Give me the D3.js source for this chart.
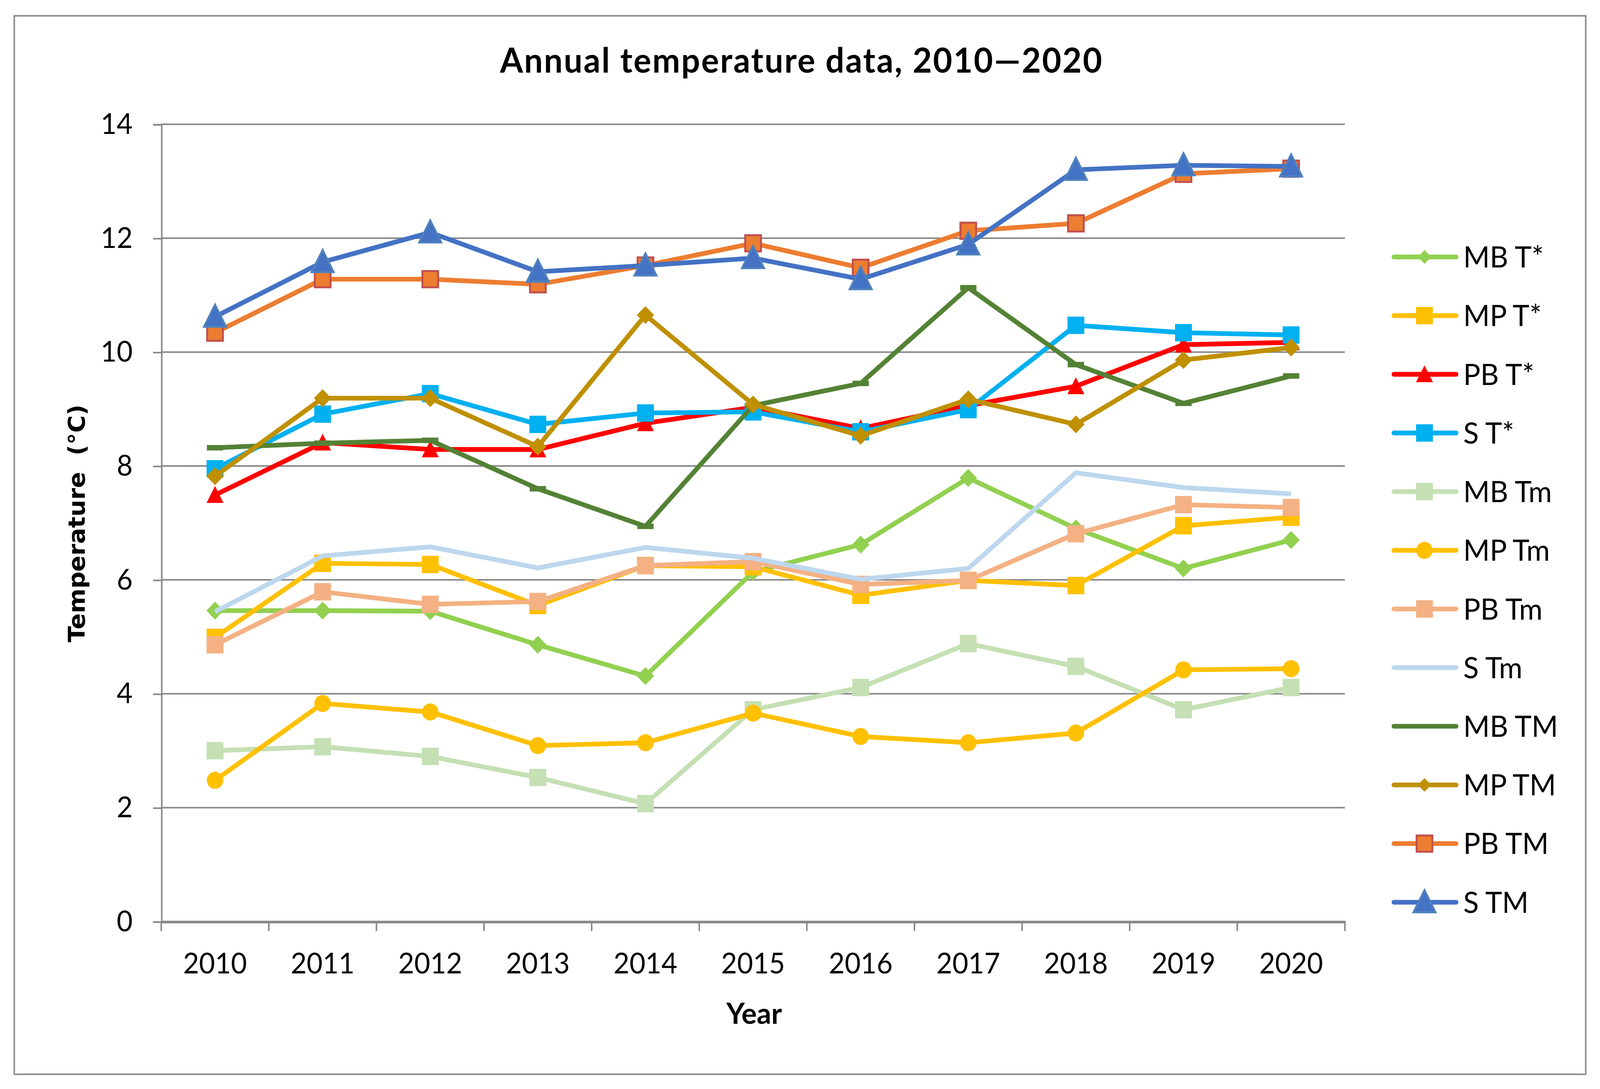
<!DOCTYPE html>
<html>
<head>
<meta charset="utf-8">
<script src="https://cdn.jsdelivr.net/npm/d3@7"></script>
<style>
  html, body { margin: 0; padding: 0; background: #fff; overflow: hidden; }
  svg { display: block; width: 100vw; height: 100vh; }
</style>
</head>
<body>
<div id="chart"></div>
<script>
// data
const years = ["2010", "2011", "2012", "2013", "2014", "2015", "2016", "2017", "2018", "2019", "2020"];
const yTicks = [0, 2, 4, 6, 8, 10, 12, 14];

const mbTstar = [5.46, 5.46, 5.45, 4.86, 4.31, 6.14, 6.62, 7.79, 6.90, 6.20, 6.70];
const mpTstar = [4.99, 6.29, 6.27, 5.55, 6.25, 6.23, 5.73, 5.99, 5.90, 6.95, 7.10];
const pbTstar = [7.49, 8.41, 8.29, 8.29, 8.75, 9.03, 8.66, 9.06, 9.40, 10.13, 10.17];
const sTstar  = [7.95, 8.91, 9.27, 8.73, 8.93, 8.95, 8.60, 8.99, 10.47, 10.34, 10.30];
const mbTm = [3.00, 3.07, 2.90, 2.53, 2.07, 3.72, 4.11, 4.88, 4.48, 3.72, 4.11];
const mpTm = [2.48, 3.83, 3.68, 3.09, 3.14, 3.66, 3.25, 3.14, 3.31, 4.42, 4.44];
const pbTm = [4.86, 5.79, 5.57, 5.62, 6.25, 6.32, 5.92, 5.99, 6.81, 7.32, 7.27];
const sTm  = [5.44, 6.42, 6.58, 6.21, 6.57, 6.38, 6.01, 6.20, 7.88, 7.62, 7.51];
const mbTM = [8.32, 8.40, 8.45, 7.60, 6.94, 9.06, 9.45, 11.13, 9.78, 9.10, 9.58];
const mpTM = [7.82, 9.19, 9.19, 8.34, 10.65, 9.08, 8.53, 9.17, 8.73, 9.86, 10.08];
const pbTM = [10.34, 11.28, 11.28, 11.19, 11.52, 11.91, 11.48, 12.13, 12.26, 13.13, 13.22];
const sTM  = [10.62, 11.58, 12.10, 11.41, 11.52, 11.65, 11.28, 11.89, 13.20, 13.28, 13.26];

const seriesNames = ["MB T*", "MP T*", "PB T*", "S T*", "MB Tm", "MP Tm", "PB Tm", "S Tm", "MB TM", "MP TM", "PB TM", "S TM"];
const seriesValues = [mbTstar, mpTstar, pbTstar, sTstar, mbTm, mpTm, pbTm, sTm, mbTM, mpTM, pbTM, sTM];

// look of each series (not data)
const styles = [
  { color: "#92d050", marker: "diamond" },
  { color: "#ffc000", marker: "square" },
  { color: "#ff0000", marker: "triangle" },
  { color: "#00b0f0", marker: "square" },
  { color: "#c5e0b4", marker: "square" },
  { color: "#ffc000", marker: "circle" },
  { color: "#f4b183", marker: "square" },
  { color: "#bdd7ee", marker: "none" },
  { color: "#548235", marker: "dash" },
  { color: "#bf9000", marker: "diamond" },
  { color: "#ed7d31", marker: "square", stroke: "#c0504d" },
  { color: "#4472c4", marker: "bigtriangle", stroke: "#4f81bd" }
];
const lineWidth = 4.5;

// drawn in reference units, stretched to whatever the viewport is
const W = 1568, H = 1034;
const svg = d3.select("#chart").append("svg")
  .attr("viewBox", `0 0 ${W} ${H}`)
  .attr("preserveAspectRatio", "none");

const font = "Lato, 'Open Sans', sans-serif";

svg.append("rect").attr("x", 0).attr("y", 0).attr("width", W).attr("height", H).attr("fill", "#fff");
svg.append("rect")
  .attr("x", 14).attr("y", 15).attr("width", 1540).attr("height", 1005)
  .attr("fill", "none").attr("stroke", "#8c8c8c").attr("stroke-width", 1.5);

svg.append("text")
  .attr("x", 785).attr("y", 69)
  .attr("text-anchor", "middle")
  .attr("font-family", font).attr("font-weight", "bold").attr("font-size", 32.5)
  .attr("textLength", 590).attr("lengthAdjust", "spacing")
  .text("Annual temperature data, 2010\u20142020");

const x = d3.scaleBand().domain(years).range([158, 1318]).padding(0);
const y = d3.scaleLinear().domain([0, 14]).range([875, 118]);
const cx = d => x(d) + x.bandwidth() / 2;

// gridlines
svg.append("g").selectAll("line").data(yTicks.filter(t => t > 0)).join("line")
  .attr("x1", 158).attr("x2", 1318)
  .attr("y1", d => y(d)).attr("y2", d => y(d))
  .attr("stroke", "#898989").attr("stroke-width", 1.5);

// y axis
const yAxis = svg.append("g").attr("transform", "translate(158,0)")
  .call(d3.axisLeft(y).tickValues(yTicks).tickSize(8).tickPadding(20).tickFormat(d3.format("d")));
yAxis.select(".domain").attr("stroke", "#898989").attr("stroke-width", 1.5);
yAxis.selectAll(".tick line").attr("stroke", "#898989").attr("stroke-width", 1.5);
yAxis.selectAll("text").attr("font-family", font).attr("font-size", 27).attr("fill", "#000");

// x axis
const xAxis = svg.append("g").attr("transform", "translate(0,875)")
  .call(d3.axisBottom(x).tickSize(0).tickPadding(30));
xAxis.select(".domain").attr("stroke", "#898989").attr("stroke-width", 2.5);
xAxis.selectAll("text").attr("font-family", font).attr("font-size", 27).attr("fill", "#000");
svg.append("g").selectAll("line").data(years.map(d => x(d)).concat([x.range()[1]])).join("line")
  .attr("x1", d => d).attr("x2", d => d).attr("y1", 875).attr("y2", 884)
  .attr("stroke", "#898989").attr("stroke-width", 1.5);

svg.append("text")
  .attr("x", 739).attr("y", 972).attr("text-anchor", "middle")
  .attr("font-family", font).attr("font-weight", "bold").attr("font-size", 28)
  .text("Year");

svg.append("text")
  .attr("transform", "translate(83,497) rotate(-90)")
  .attr("text-anchor", "middle")
  .attr("font-family", "'DejaVu Sans', Verdana, sans-serif").attr("font-weight", "bold").attr("font-size", 22.5)
  .attr("xml:space", "preserve")
  .text("Temperature  (\u00b0C)");

function drawMarker(g, st, px, py, inLegend) {
  const m = st.marker;
  if (m === "none") return;
  let p;
  if (m === "dash") {
    g.append("rect").attr("x", px - 8).attr("y", py - 2.6).attr("width", 16).attr("height", 5.2).attr("fill", st.color);
    return;
  } else if (m === "square") {
    const s = 16.5;
    p = g.append("rect").attr("x", px - s / 2).attr("y", py - s / 2).attr("width", s).attr("height", s);
    if (st.stroke) p.attr("x", px - 7.7).attr("y", py - 7.7).attr("width", 15.4).attr("height", 15.4);
  } else if (m === "diamond") {
    const r = inLegend ? 6.5 : 8.5;
    p = g.append("path").attr("d", `M${px},${py - r}L${px + r},${py}L${px},${py + r}L${px - r},${py}Z`);
  } else if (m === "triangle") {
    p = g.append("path").attr("d", `M${px},${py - 8.5}L${px + 8.3},${py + 7.5}L${px - 8.3},${py + 7.5}Z`);
  } else if (m === "bigtriangle") {
    p = g.append("path").attr("d", `M${px},${py - 11.5}L${px + 10.8},${py + 9.5}L${px - 10.8},${py + 9.5}Z`);
  } else if (m === "circle") {
    p = g.append("circle").attr("cx", px).attr("cy", py).attr("r", 8.1);
  }
  p.attr("fill", st.color);
  if (st.stroke) p.attr("stroke", st.stroke).attr("stroke-width", 1.9).attr("stroke-linejoin", "miter");
}

const line = d3.line().x(d => cx(d[0])).y(d => y(d[1]));
seriesValues.forEach((vals, i) => {
  const st = styles[i];
  const g = svg.append("g");
  const pts = years.map((yr, j) => [yr, vals[j]]);
  g.append("path").attr("d", line(pts))
    .attr("fill", "none").attr("stroke", st.color).attr("stroke-width", lineWidth)
    .attr("stroke-linejoin", "round").attr("stroke-linecap", "butt");
  pts.forEach(p => drawMarker(g, st, cx(p[0]), y(p[1]), false));
});

// legend
const legend = svg.append("g");
seriesNames.forEach((name, i) => {
  const st = styles[i];
  const ly = 244 + i * 55.7;
  const g = legend.append("g");
  g.append("line").attr("x1", 1366).attr("x2", 1427).attr("y1", ly).attr("y2", ly)
    .attr("stroke", st.color).attr("stroke-width", lineWidth).attr("stroke-linecap", "round");
  if (st.marker !== "dash") drawMarker(g, st, 1396, ly, true);
  g.append("text").attr("x", 1434).attr("y", ly + 10)
    .attr("font-family", font).attr("font-size", 28).text(name);
});
</script>
</body>
</html>
